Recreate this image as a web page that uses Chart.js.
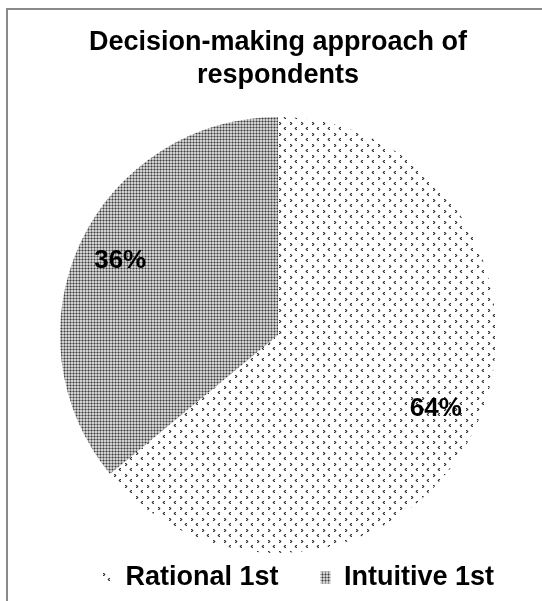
<!DOCTYPE html>
<html><head><meta charset="utf-8">
<script src="https://cdn.jsdelivr.net/npm/chart.js@4.4.1/dist/chart.umd.min.js"></script>
<style>html,body{margin:0;padding:0;background:#fff;} canvas{display:block;}</style>
</head><body>
<canvas id="c" width="542" height="601"></canvas>
<script>
const categories = ['Rational 1st', 'Intuitive 1st'];
const shares = [64, 36];
const chartTitle = ['Decision-making approach of', 'respondents'];

const FONT = '"Liberation Sans", Arial, sans-serif';

function makePattern(w, h, bg, pixels) {
  const c = document.createElement('canvas');
  c.width = w; c.height = h;
  const x = c.getContext('2d');
  x.fillStyle = bg; x.fillRect(0, 0, w, h);
  pixels.forEach(([px, py, col]) => { x.fillStyle = col; x.fillRect(px, py, 1, 1); });
  return document.getElementById('c').getContext('2d').createPattern(c, 'repeat');
}

const D = '#333333', M = '#8c8c8c', L = '#c8c8c8';
const rationalPattern = makePattern(11, 11, '#ffffff', [
  [4,1,D],[5,1,M],[5,2,D],[4,2,L],[6,2,L],[4,3,D],[5,3,M],
  [10,6,D],[9,6,M],[9,7,D],[10,7,L],[8,7,L],[10,8,D],[9,8,M]
]);
const intuitivePattern = makePattern(3, 3, '#d0d0d0', [
  [1,0,M],[0,1,M],[2,1,M],[1,2,M],[1,1,'#3a3a3a']
]);

const framePlugin = {
  id: 'frame',
  beforeDraw(chart) {
    const ctx = chart.ctx;
    ctx.save();
    ctx.fillStyle = '#ffffff';
    ctx.fillRect(0, 0, chart.width, chart.height);
    ctx.fillStyle = '#8a8a8a';
    ctx.fillRect(6, 8, 2, chart.height - 8);
    ctx.fillRect(6, 8, chart.width - 6, 2);
    ctx.restore();
  }
};

// The legend in the reference sits a little right of the pie's centre line.
const legendShift = {
  id: 'legendShift',
  afterLayout(chart) {
    if (chart.legend) { chart.legend.left += 20; chart.legend.right += 20; }
  }
};

const pctLabels = {
  id: 'pctLabels',
  afterDatasetsDraw(chart) {
    const meta = chart.getDatasetMeta(0);
    const data = chart.data.datasets[0].data;
    const total = data.reduce((a, b) => a + b, 0);
    const ctx = chart.ctx;
    ctx.save();
    ctx.font = 'bold 26px ' + FONT;
    ctx.fillStyle = '#000';
    ctx.textAlign = 'center';
    ctx.textBaseline = 'middle';
    meta.data.forEach((arc, i) => {
      const p = arc.getProps(['x', 'y', 'startAngle', 'endAngle', 'outerRadius'], true);
      const a = (p.startAngle + p.endAngle) / 2;
      const r = p.outerRadius * 0.8;
      ctx.fillText(Math.round(data[i] / total * 100) + '%', p.x + Math.cos(a) * r, p.y + Math.sin(a) * r);
    });
    ctx.restore();
  }
};

new Chart(document.getElementById('c'), {
  type: 'pie',
  data: {
    labels: categories,
    datasets: [{
      data: shares,
      backgroundColor: [rationalPattern, intuitivePattern],
      borderWidth: 0,
      radius: 218,
      clip: false
    }]
  },
  options: {
    responsive: false,
    devicePixelRatio: 1,
    animation: false,
    events: [],
    layout: { padding: { left: 20, right: 6, top: 0, bottom: 0 } },
    plugins: {
      title: {
        display: true,
        text: chartTitle,
        color: '#000',
        font: { family: FONT, size: 27, weight: 'bold', lineHeight: 1.22 },
        padding: { top: 26, bottom: 56 }
      },
      legend: {
        display: true,
        position: 'bottom',
        align: 'center',
        labels: {
          color: '#000',
          font: { family: FONT, size: 27, weight: 'bold' },
          boxWidth: 10,
          boxHeight: 12,
          padding: 42
        }
      },
      tooltip: { enabled: false }
    }
  },
  plugins: [framePlugin, legendShift, pctLabels]
});
</script>
</body></html>
